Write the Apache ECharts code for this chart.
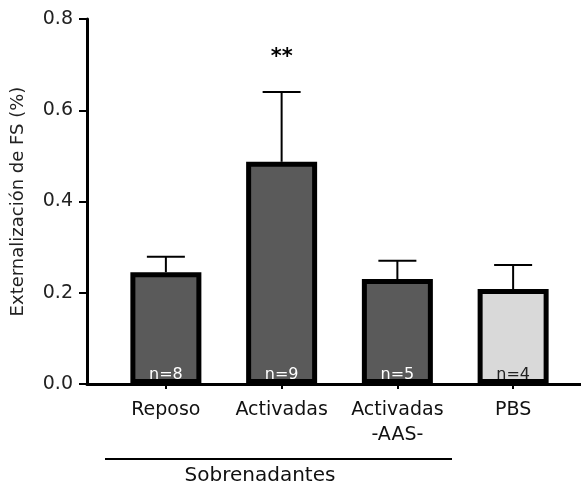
<!DOCTYPE html>
<html><head><meta charset="utf-8">
<script src="https://cdn.jsdelivr.net/npm/echarts@6/dist/echarts.min.js"></script>
<style>html,body{margin:0;padding:0;background:#fff}#c{width:581px;height:492px}</style>
</head><body><div id="c"></div>
<script>
const categories = ['Reposo', 'Activadas', 'Activadas\n-AAS-', 'PBS'];
const means = [0.245, 0.487, 0.230, 0.208];
const errUpper = [0.279, 0.640, 0.270, 0.261];
const nLabels = ['n=8', 'n=9', 'n=5', 'n=4'];
const significance = ['', '**', '', ''];
const barColors = ['#5a5a5a', '#5a5a5a', '#5a5a5a', '#d9d9d9'];
const nColors = ['#ffffff', '#ffffff', '#ffffff', '#222222'];
const yTicks = [0, 0.2, 0.4, 0.6, 0.8];

const font = '"DejaVu Sans", Verdana, sans-serif';
const chart = echarts.init(document.getElementById('c'));
chart.setOption({
  animation: false,
  grid: [
    {left: 87, right: 0, top: 19, bottom: 108},
    {left: 108, right: 10, top: 19, bottom: 108}
  ],
  xAxis: [
    {gridIndex: 0, type: 'value', min: 0, max: 1,
     axisLine: {show: true, lineStyle: {color: '#000', width: 3}},
     axisTick: {show: false}, axisLabel: {show: false}, splitLine: {show: false}},
    {gridIndex: 1, type: 'category', data: categories,
     axisLine: {show: false},
     axisTick: {show: true, alignWithLabel: true, length: 5, lineStyle: {color: '#000', width: 2}},
     axisLabel: {color: '#111', fontSize: 19, fontFamily: font, margin: 14, lineHeight: 25,
       interval: 0, hideOverlap: false}}
  ],
  yAxis: [
    {gridIndex: 0, type: 'value', min: 0, max: 0.8, interval: 0.2,
     name: 'Externalización de FS (%)', nameLocation: 'middle', nameGap: 60,
     nameTextStyle: {color: '#222', fontSize: 18, fontFamily: font},
     axisLine: {show: true, lineStyle: {color: '#000', width: 3}},
     axisTick: {show: true, length: 8, lineStyle: {color: '#000', width: 2}},
     axisLabel: {color: '#222', fontSize: 19, fontFamily: font, margin: 14,
       formatter: v => v.toFixed(1)},
     splitLine: {show: false}},
    {gridIndex: 1, type: 'value', min: 0, max: 0.8, show: false, splitLine: {show: false}}
  ],
  series: [
    {type: 'bar', xAxisIndex: 1, yAxisIndex: 1, barWidth: 71,
     data: means.map((v, i) => ({value: v,
       itemStyle: {color: barColors[i]},
       label: {color: nColors[i]}})),
     itemStyle: {borderColor: '#000', borderWidth: 5},
     label: {show: true, position: 'insideBottom', distance: 1, fontSize: 16, fontFamily: font,
       formatter: p => nLabels[p.dataIndex]},
     z: 2},
    {type: 'custom', xAxisIndex: 1, yAxisIndex: 1, z: 1,
     data: means.map((v, i) => [i, v, errUpper[i]]),
     renderItem: (params, api) => {
       const top = api.coord([api.value(0), api.value(2)]);
       const base = api.coord([api.value(0), api.value(1)]);
       const x = top[0];
       const children = [
         {type: 'line', shape: {x1: x, y1: base[1], x2: x, y2: top[1]}, style: {stroke: '#000', lineWidth: 2}},
         {type: 'line', shape: {x1: x - 19, y1: top[1], x2: x + 19, y2: top[1]}, style: {stroke: '#000', lineWidth: 2}}
       ];
       const s = significance[params.dataIndex];
       if (s) children.push({type: 'text', style: {text: s, x: x, y: top[1] - 34, align: 'center', verticalAlign: 'middle',
         font: 'bold 21px ' + font, fill: '#000'}});
       return {type: 'group', children};
     }}
  ],
  graphic: [
    {type: 'line', shape: {x1: 105, y1: 459, x2: 452, y2: 459}, style: {stroke: '#000', lineWidth: 2}},
    {type: 'text', style: {text: 'Sobrenadantes', x: 260, y: 476, align: 'center', verticalAlign: 'middle',
      font: '20px ' + font, fill: '#111'}}
  ]
});
</script></body></html>
